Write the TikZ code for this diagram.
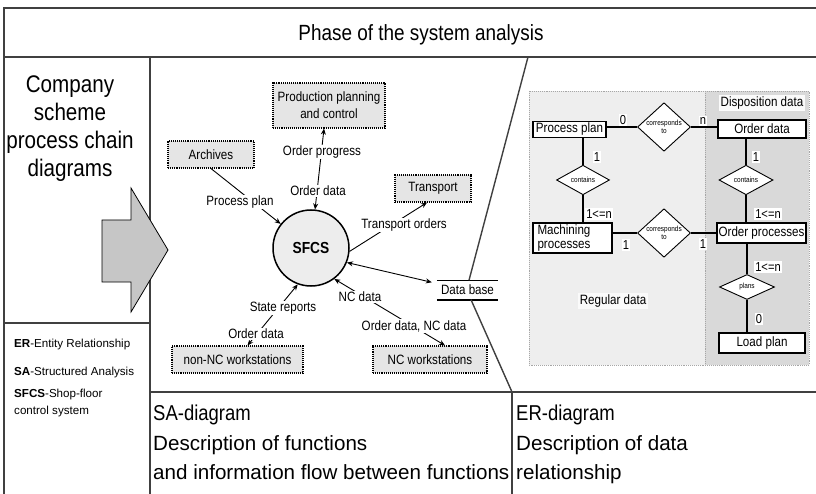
\documentclass[tikz,border=0pt]{standalone}
\usepackage{fontspec}
\setmainfont{Liberation Sans}
\newfontfamily\NarrowF[FakeStretch=0.86]{Liberation Sans}
\usetikzlibrary{arrows.meta,shapes.geometric,calc}
\newcommand\FSz[2]{\fontsize{#1}{#2}\selectfont}
\begin{document}
\begin{tikzpicture}[x=1pt,y=-1pt,
 frame/.style={line width=1.4pt, black!75},
 sabox/.style={draw, densely dotted, line width=1.1pt, fill=gray!20, inner sep=1pt, align=center, font=\NarrowF\FSz{13.5}{17}},
 lbl/.style={fill=white, inner sep=1pt, font=\NarrowF\FSz{13.5}{15}},
 sarr/.style={line width=0.9pt, -{Stealth[length=6pt,width=5pt]}},
 sarrb/.style={line width=0.9pt, {Stealth[length=6pt,width=5pt]}-{Stealth[length=6pt,width=5pt]}},
 erbox/.style={draw, line width=1.3pt, fill=white, inner sep=1pt, font=\NarrowF\FSz{13.5}{14}},
 rel/.style={diamond, draw, line width=0.9pt, fill=white, inner sep=0pt, align=center, font=\NarrowF\FSz{7.5}{7.5}},
 card/.style={fill=white, inner sep=1.2pt, font=\NarrowF\FSz{13}{14}},
 erline/.style={line width=1.2pt},
 bigtxt/.style={font=\NarrowF\FSz{24}{28}, align=center},
 desc/.style={anchor=base west, inner sep=0pt, font=\FSz{20.6}{22}},
 legend/.style={anchor=base west, inner sep=0pt, font=\FSz{11.6}{17}, align=left}]
\useasboundingbox (0,0) rectangle (816,494);
\fill[white] (0,0) rectangle (816,494);

% ---------- frame ----------
\draw[frame] (4,494) -- (4,8) -- (816,8);
\draw[frame] (4,57) -- (816,57);
\draw[frame] (150,57) -- (150,494);
\draw[frame] (4,323) -- (150,323);
\draw[frame] (150,392) -- (816,392);
\draw[frame] (512,392) -- (512,494);

\node[anchor=base, font=\NarrowF\FSz{22}{24}] (title) at (421,41) {Phase of the system analysis};

% ---------- left column ----------
\node[bigtxt, anchor=north] (cs) at (70,72) {Company\\scheme\\process chain\\diagrams};
\node[legend] (l1) at (14,347) {\textbf{ER}-Entity Relationship};
\node[legend] (l2) at (14,375) {\textbf{SA}-Structured Analysis};
\node[legend, anchor=north west] (l3) at (14,389) {\textbf{SFCS}-Shop-floor\\control system};

% ---------- ER diagram background ----------
\fill[gray!13] (529,91) rectangle (705,365);
\fill[gray!30] (705,91) rectangle (809,365);
\draw[densely dotted, line width=0.9pt, gray!70] (529,91) rectangle (809,365);
\draw[densely dotted, line width=0.9pt, gray!70] (705,91) -- (705,365);
\node[fill=gray!4, inner sep=2pt, font=\NarrowF\FSz{13.5}{14}] (disp) at (762,103) {Disposition data};
\node[fill=gray!4, inner sep=2pt, font=\NarrowF\FSz{13.5}{14}] (reg) at (613,301) {Regular data};

% ---------- SA nodes ----------
\node[sabox, minimum width=112, minimum height=45] (ppc) at (329,105.5) {Production planning\\and control};
\node[sabox, minimum width=86, minimum height=27] (arch) at (211,154.5) {Archives};
\node[sabox, minimum width=76, minimum height=27] (trans) at (433,188.5) {Transport};
\node[sabox, minimum width=131, minimum height=27] (nonnc) at (237.5,359.5) {non-NC workstations};
\node[sabox, minimum width=114, minimum height=27] (nc) at (430,359.5) {NC workstations};
\node[circle, draw, line width=1.5pt, fill=gray!14, minimum size=76, inner sep=0pt,
      font=\NarrowF\bfseries\FSz{16}{16}] (sfcs) at (311,248) {SFCS};
\node[inner sep=0pt, minimum width=61, minimum height=19, font=\NarrowF\FSz{13.5}{14}] (db) at (467.5,290) {Data base};
\draw[line width=1.3pt] (db.north west) -- (db.north east);
\draw[line width=1.6pt] (db.south west) -- (db.south east);

% slanted divider
\draw[frame] (528,57) -- ($(db.north)+(1.5,0)$);
\draw[frame] ($(db.south)+(3.5,0)$) -- (512,392);

% big arrow
\draw[line width=0.8pt, fill=gray!45] (102,220) -- (131,220) -- (131,188) -- (168,250)
  -- (131,312) -- (131,282) -- (102,282) -- cycle;

% ---------- SA connectors ----------
\draw[sarr] (arch.south) -- (sfcs);
\node[lbl] (lpp) at (240,202) {Process plan};
\draw[sarrb] (sfcs.84) -- ([xshift=-5pt]ppc.south);
\node[lbl] (lop) at (322,152) {Order progress};
\node[lbl] (lod) at (318,191) {Order data};
\draw[sarr] (sfcs.-5) -- ([xshift=-6pt]trans.south);
\node[lbl] (lto) at (404,225) {Transport orders};
\draw[sarrb] (sfcs.-22) -- ($(db.north west)+(-5,2)$);
\draw[sarrb] (sfcs.-110) -- ([xshift=10pt]nonnc.north);
\node[lbl] (lsr) at (283,308) {State reports};
\node[lbl] (lod2) at (256,334) {Order data};
\draw[sarrb] (sfcs.-53) -- ([xshift=15pt]nc.north);
\node[lbl] (lnc) at (360,297) {NC data};
\node[lbl] (lodnc) at (414,326) {Order data, NC data};

% ---------- ER nodes ----------
\node[erbox, minimum width=73, minimum height=16] (pp) at (569.5,129.5) {Process plan};
\node[erbox, minimum width=88, minimum height=18] (od) at (762,129) {Order data};
\node[erbox, minimum width=79, minimum height=30, align=left, text width=70, inner xsep=4pt,
      font=\NarrowF\FSz{13.5}{14}] (mp) at (572.5,238) {Machining\\processes};
\node[erbox, minimum width=89, minimum height=20] (op) at (761.5,233) {Order processes};
\node[erbox, minimum width=86, minimum height=20] (lp) at (762,343) {Load plan};

\node[rel, minimum width=53, minimum height=31] (r1) at (664,127) {corresponds\\to};
\node[rel, minimum width=53, minimum height=26] (c1) at (583,180) {contains};
\node[rel, minimum width=54, minimum height=25] (c2) at (746,180) {contains};
\node[rel, minimum width=53, minimum height=30] (r2) at (664,233) {corresponds\\to};
\node[rel, minimum width=55, minimum height=25] (pl) at (747,287) {plans};

% ---------- ER connectors ----------
\draw[erline] (pp.east |- r1) -- (r1.west);
\draw[erline] (r1.east) -- (od.west |- r1);
\draw[erline] (c1.north |- pp.south) -- (c1.north);
\draw[erline] (c1.south) -- (c1.south |- mp.north);
\draw[erline] (c2.north |- od.south) -- (c2.north);
\draw[erline] (c2.south) -- (c2.south |- op.north);
\draw[erline] (mp.east |- r2) -- (r2.west);
\draw[erline] (r2.east) -- (op.west |- r2);
\draw[erline] (pl.north |- op.south) -- (pl.north);
\draw[erline] (pl.south) -- (pl.south |- lp.north);

\node[card, anchor=south] (k1) at (623,126) {0};
\node[card, anchor=south] (k2) at (703,126) {n};
\node[card] (k3) at (597,157) {1};
\node[card] (k4) at (599,214) {1<=n};
\node[card] (k5) at (756,157) {1};
\node[card] (k6) at (768,214) {1<=n};
\node[card] (k7) at (626,245) {1};
\node[card] (k8) at (703,244) {1};
\node[card] (k9) at (768,267) {1<=n};
\node[card] (k10) at (759,319) {0};

% ---------- bottom band ----------
\node[desc, font=\NarrowF\FSz{21.5}{22}] (sa) at (153,420) {SA-diagram};
\node[desc] (sa1) at (153,450) {Description of functions};
\node[desc] (sa2) at (153,479) {and information flow between functions};
\node[desc, font=\NarrowF\FSz{21.5}{22}] (er) at (516,420) {ER-diagram};
\node[desc] (er1) at (516,450) {Description of data};
\node[desc] (er2) at (516,479) {relationship};
\end{tikzpicture}
\end{document}
